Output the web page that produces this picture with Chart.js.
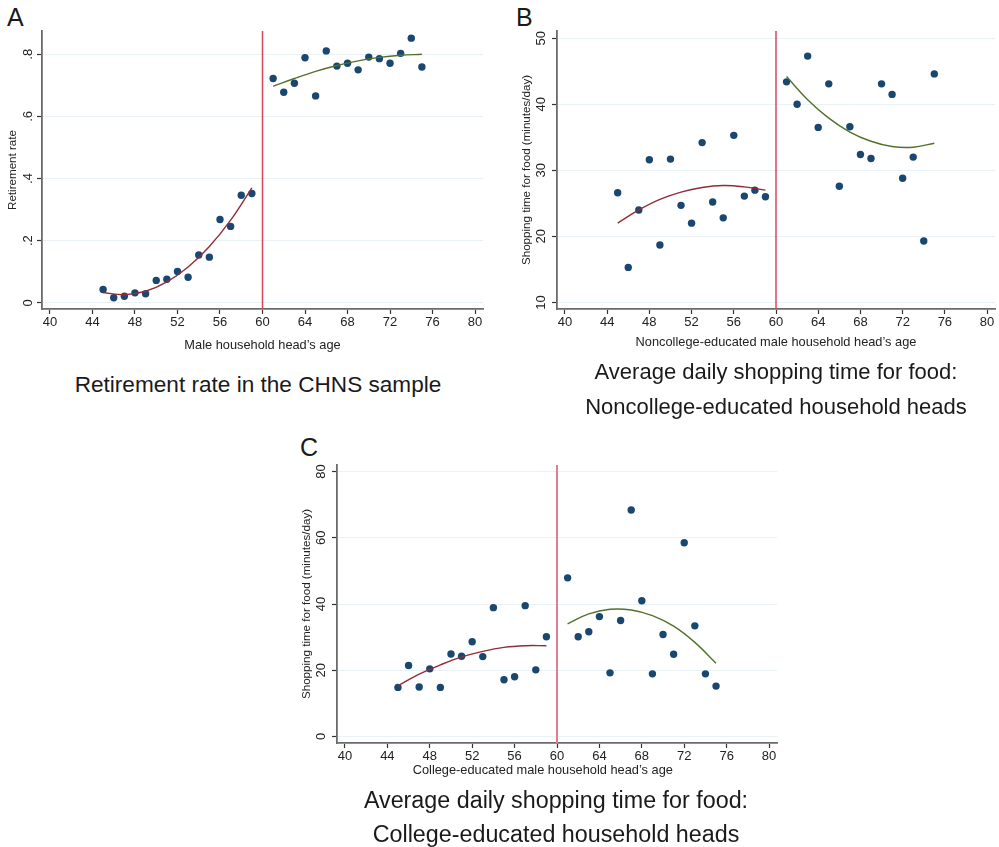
<!DOCTYPE html>
<html>
<head>
<meta charset="utf-8">
<script src="https://cdn.jsdelivr.net/npm/chart.js@4.4.1/dist/chart.umd.min.js"></script>
<style>
  body { margin: 0; background: #fff; width: 999px; height: 847px; position: relative; overflow: hidden;
         font-family: "Liberation Sans", Arial, sans-serif; color: #1a1a1a; }
  canvas { position: absolute; }
  .tag { position: absolute; font-size: 25px; line-height: 25px; }
  .caption { position: absolute; text-align: center; white-space: nowrap; }
</style>
</head>
<body>
<div class="tag" style="left:7px;top:5px">A</div>
<div class="tag" style="left:516px;top:5px">B</div>
<div class="tag" style="left:300px;top:435px">C</div>

<canvas id="retirementChart" width="495" height="360" style="left:0;top:0"></canvas>
<canvas id="noncollegeChart" width="499" height="360" style="left:500px;top:0"></canvas>
<canvas id="collegeChart" width="495" height="345" style="left:290px;top:440px"></canvas>

<div class="caption" style="left:58px;top:367px;width:400px;font-size:22.6px;line-height:35px">Retirement rate in the CHNS sample</div>
<div class="caption" style="left:576px;top:354px;width:400px;font-size:22px;line-height:35px">Average daily shopping time for food:<br>Noncollege-educated household heads</div>
<div class="caption" style="left:356px;top:783px;width:400px;font-size:23.3px;line-height:34px">Average daily shopping time for food:<br>College-educated household heads</div>

<script>
const FONT = "'Liberation Sans', Arial, sans-serif";
const cutoffAge = 60;

// ages on each side of the cutoff, and where the quadratic fits are traced
const agesBefore = [45, 46, 47, 48, 49, 50, 51, 52, 53, 54, 55, 56, 57, 58, 59];
const agesAfter = [61, 62, 63, 64, 65, 66, 67, 68, 69, 70, 71, 72, 73, 74, 75];
const fitAgesBefore = [45, 47, 49, 51, 53, 55, 57, 59];
const fitAgesAfter = [61, 63, 65, 67, 69, 71, 73, 75];
const ageTicks = [40, 44, 48, 52, 56, 60, 64, 68, 72, 76, 80];

// A: retirement rate
const retireBefore = [0.043, 0.016, 0.021, 0.032, 0.029, 0.072, 0.076, 0.101, 0.082, 0.154, 0.147, 0.268, 0.246, 0.346, 0.352];
const retireAfter = [0.722, 0.678, 0.707, 0.789, 0.666, 0.811, 0.762, 0.771, 0.750, 0.791, 0.786, 0.771, 0.803, 0.852, 0.759];
const retireFitBefore = [0.033, 0.026, 0.037, 0.067, 0.115, 0.181, 0.266, 0.370];
const retireFitAfter = [0.697, 0.722, 0.745, 0.764, 0.779, 0.790, 0.797, 0.800];
const retireTicks = [0, 0.2, 0.4, 0.6, 0.8];

// B: shopping time, noncollege-educated heads
const noncollegeBefore = [26.6, 15.3, 24.0, 31.6, 18.7, 31.7, 24.7, 22.0, 34.2, 25.2, 22.8, 35.3, 26.1, 27.0, 26.0];
const noncollegeAfter = [43.4, 40.0, 47.3, 36.5, 43.1, 27.6, 36.6, 32.4, 31.8, 43.1, 41.5, 28.8, 32.0, 19.3, 44.6];
const noncollegeFitBefore = [22.0, 24.0, 25.6, 26.7, 27.4, 27.7, 27.5, 27.0];
const noncollegeFitAfter = [44.2, 40.7, 37.9, 35.8, 34.4, 33.6, 33.5, 34.1];
const noncollegeTicks = [10, 20, 30, 40, 50];

// C: shopping time, college-educated heads
const collegeBefore = [14.8, 21.4, 14.9, 20.4, 14.8, 24.9, 24.2, 28.6, 24.1, 38.9, 17.1, 18.0, 39.5, 20.1, 30.1];
const collegeAfter = [47.9, 30.1, 31.6, 36.2, 19.2, 35.0, 68.4, 41.0, 18.9, 30.8, 24.8, 58.5, 33.4, 18.9, 15.2];
const collegeFitBefore = [15.3, 18.8, 21.6, 24.0, 25.7, 26.9, 27.4, 27.4];
const collegeFitAfter = [34.0, 37.0, 38.4, 38.2, 36.5, 33.3, 28.4, 22.1];
const collegeTicks = [0, 20, 40, 60, 80];

// vertical line at the retirement age cutoff
const cutoffLine = {
    id: 'cutoffLine',
    beforeDatasetsDraw(chart, args, opts) {
        const { ctx, chartArea, scales } = chart;
        const x = scales.x.getPixelForValue(cutoffAge);
        ctx.save();
        ctx.strokeStyle = opts.color;
        ctx.lineWidth = opts.width;
        ctx.beginPath();
        ctx.moveTo(x, chartArea.top);
        ctx.lineTo(x, chartArea.bottom);
        ctx.stroke();
        ctx.restore();
    }
};

function toPoints(xs, ys) {
    return xs.map((x, i) => ({ x: x, y: ys[i] }));
}

function fitCurve(xs, ys, color) {
    return {
        data: toPoints(xs, ys),
        showLine: true,
        borderColor: color,
        borderWidth: 1.4,
        pointRadius: 0,
        tension: 0.4
    };
}

function drawPanel(id, p) {
    const ctx = document.getElementById(id).getContext('2d');
    return new Chart(ctx, {
        type: 'scatter',
        data: {
            datasets: [
                fitCurve(fitAgesBefore, p.fitBefore, '#8f2d38'),
                fitCurve(fitAgesAfter, p.fitAfter, '#52722b'),
                {
                    data: toPoints(agesBefore.concat(agesAfter), p.before.concat(p.after)),
                    backgroundColor: '#1a476f',
                    borderWidth: 0,
                    pointRadius: 3.7
                }
            ]
        },
        options: {
            responsive: false,
            animation: false,
            layout: { padding: p.padding },
            plugins: {
                legend: { display: false },
                tooltip: { enabled: false },
                cutoffLine: { color: p.cutoffColor, width: p.cutoffWidth }
            },
            scales: {
                x: {
                    type: 'linear',
                    min: 39.25,
                    max: 80.75,
                    afterBuildTicks: s => { s.ticks = ageTicks.map(v => ({ value: v })); },
                    afterFit: s => { s.height = p.xHeight; },
                    border: { color: '#6b6b6b', width: 1.8 },
                    grid: { drawOnChartArea: false, tickLength: 5, tickColor: '#333', tickWidth: 1.2 },
                    ticks: { color: '#222', font: { family: FONT, size: 13 }, padding: 1, maxRotation: 0 },
                    title: { display: true, text: p.xTitle, color: '#222', font: { family: FONT, size: 12.8 }, padding: 0 }
                },
                y: {
                    type: 'linear',
                    min: p.yMin,
                    max: p.yMax,
                    afterBuildTicks: s => { s.ticks = p.yTicks.map(v => ({ value: v })); },
                    afterFit: s => { s.width = p.yWidth; },
                    border: { color: '#6b6b6b', width: 1.8 },
                    grid: { color: '#e9f1f5', lineWidth: 1, tickLength: 5, tickColor: '#333', tickWidth: 1.2 },
                    ticks: {
                        color: '#222',
                        font: { family: FONT, size: 13 },
                        padding: 3,
                        minRotation: 90,
                        maxRotation: 90,
                        crossAlign: 'center',
                        callback: p.yFormat || (v => String(v))
                    },
                    title: { display: true, text: p.yTitle, color: '#222', font: { family: FONT, size: 11.6 }, padding: 0 }
                }
            }
        },
        plugins: [cutoffLine]
    });
}

// A: Retirement rate
drawPanel('retirementChart', {
    before: retireBefore, after: retireAfter,
    fitBefore: retireFitBefore, fitAfter: retireFitAfter,
    yTicks: retireTicks, yMin: -0.02, yMax: 0.875,
    yFormat: v => (v === 0 ? '0' : String(v).replace(/^0/, '')),
    xTitle: 'Male household head\u2019s age',
    yTitle: 'Retirement rate',
    padding: { left: 6, top: 31, right: 12, bottom: 7 },
    yWidth: 36, xHeight: 44,
    cutoffColor: '#d8465c', cutoffWidth: 1.5
});

// B: Noncollege-educated shopping time
drawPanel('noncollegeChart', {
    before: noncollegeBefore, after: noncollegeAfter,
    fitBefore: noncollegeFitBefore, fitAfter: noncollegeFitAfter,
    yTicks: noncollegeTicks, yMin: 9, yMax: 51.1,
    xTitle: 'Noncollege-educated male household head\u2019s age',
    yTitle: 'Shopping time for food (minutes/day)',
    padding: { left: 20, top: 31, right: 1, bottom: 10 },
    yWidth: 37, xHeight: 41,
    cutoffColor: '#d8465c', cutoffWidth: 1.5
});

// C: College-educated shopping time (title sits a little left of the plot centre)
drawPanel('collegeChart', {
    before: collegeBefore, after: collegeAfter,
    fitBefore: collegeFitBefore, fitAfter: collegeFitAfter,
    yTicks: collegeTicks, yMin: -2, yMax: 82,
    xTitle: 'College-educated male household head\u2019s age' + ' '.repeat(8),
    yTitle: 'Shopping time for food (minutes/day)',
    padding: { left: 10, top: 25, right: 8, bottom: 7 },
    yWidth: 37, xHeight: 35,
    cutoffColor: '#e07d8e', cutoffWidth: 2
});
</script>
</body>
</html>
